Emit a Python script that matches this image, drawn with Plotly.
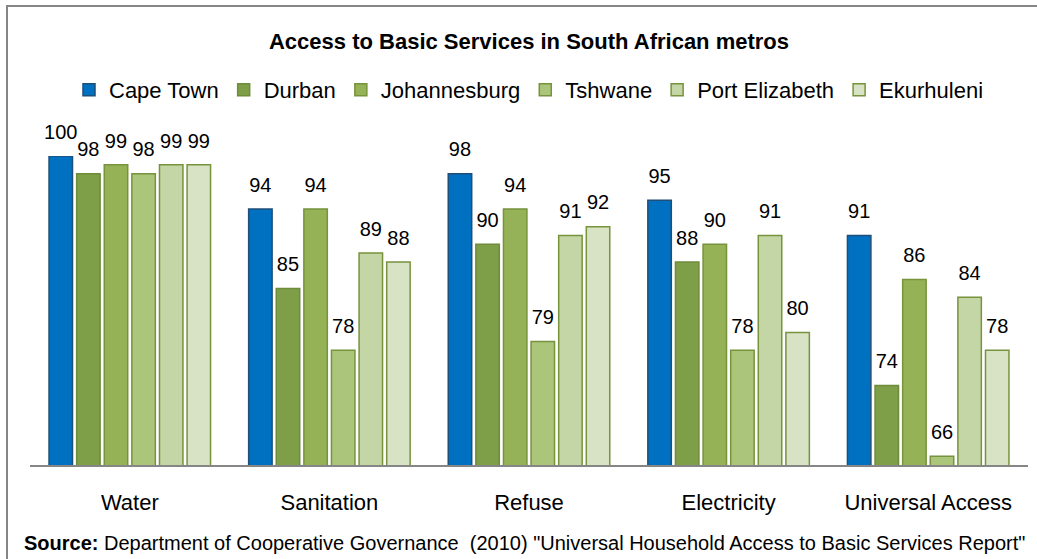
import plotly.graph_objects as go

categories = ["Water", "Sanitation", "Refuse", "Electricity", "Universal Access"]
series_names = ["Cape Town", "Durban", "Johannesburg", "Tshwane", "Port Elizabeth", "Ekurhuleni"]
cape_town = [100, 94, 98, 95, 91]
durban = [98, 85, 90, 88, 74]
johannesburg = [99, 94, 94, 90, 86]
tshwane = [98, 78, 79, 78, 66]
port_elizabeth = [99, 89, 91, 91, 84]
ekurhuleni = [99, 88, 92, 80, 78]
series_values = [cape_town, durban, johannesburg, tshwane, port_elizabeth, ekurhuleni]

fills = ["#0070C0", "#7F9E48", "#95B356", "#ABC57B", "#C4D5A6", "#D8E3C6"]
borders = ["#1F4E79", "#6E8C3A", "#77933C", "#77933C", "#77933C", "#77933C"]

FONT = "Liberation Sans, Arial"
fig = go.Figure()
for i, (name, vals, fc, bc) in enumerate(zip(series_names, series_values, fills, borders)):
    fig.add_trace(go.Bar(
        x=categories, y=vals, name=name, offsetgroup=str(i),
        marker=dict(color=fc, line=dict(color=bc, width=1.5)),
        cliponaxis=False,
    ))
for i, (name, vals) in enumerate(zip(series_names, series_values)):
    fig.add_trace(go.Scatter(
        x=categories, y=vals, name=name + " labels", offsetgroup=str(i),
        mode="markers+text", text=[str(v) for v in vals], textposition="top center",
        marker=dict(size=18, color="rgba(0,0,0,0)"),
        textfont=dict(family=FONT, size=20, color="#000000"),
        showlegend=False, hoverinfo="skip", cliponaxis=False,
    ))

fig.update_layout(
    width=1037, height=559,
    margin=dict(l=30, r=9, t=156, b=94),
    paper_bgcolor="white", plot_bgcolor="white",
    barmode="group", bargap=0.17, bargroupgap=0.15,
    scattermode="group", scattergap=0.17,
    font=dict(family=FONT, color="#000000"),
    title=dict(text="<b>Access to Basic Services in South African metros</b>",
               x=0.5, xref="paper", xanchor="center", y=1 - 41 / 559, yanchor="middle",
               font=dict(size=22, color="#000000")),
    legend=dict(orientation="h", x=0.5, xanchor="center", xref="paper",
                y=1 - 90 / 559, yref="container", yanchor="middle",
                font=dict(size=22), itemwidth=30, traceorder="normal",
                bgcolor="rgba(0,0,0,0)"),
    showlegend=True,
    xaxis=dict(showline=True, linecolor="#868686", linewidth=2, ticks="",
               tickfont=dict(size=22), ticklabelstandoff=17, showgrid=False),
    yaxis=dict(range=[65, 100], visible=False, showgrid=False),
    shapes=[dict(type="rect", xref="paper", yref="paper",
                 x0=-23 / 998, x1=1.1, y0=-0.5, y1=(465 - 6) / 309,
                 line=dict(color="#868686", width=2), fillcolor="rgba(0,0,0,0)", layer="below")],
    annotations=[dict(text="<b>Source:</b> Department of Cooperative Governance  (2010) \"Universal Household Access to Basic Services Report\"",
                      xref="paper", yref="paper", x=-8 / 998, y=-(543 - 465) / 309,
                      xanchor="left", yanchor="middle", showarrow=False,
                      font=dict(size=20, color="#000000"))],
)

fig.write_html("out.html", config={"displayModeBar": False},
               post_script="document.body.style.margin='0';document.body.style.padding='0';")
